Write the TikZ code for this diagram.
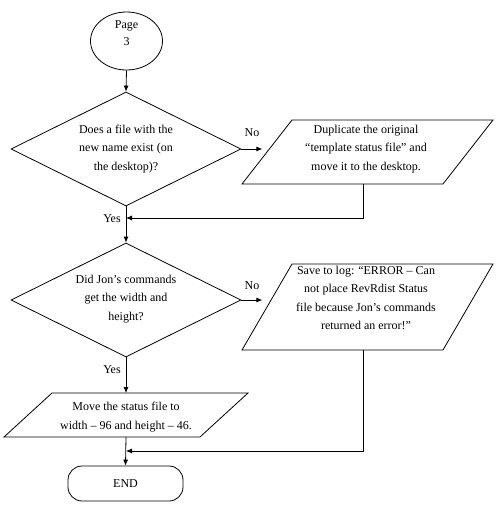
\documentclass[tikz,border=0pt]{standalone}
\usepackage{fontspec}
\setmainfont{Liberation Serif}
\usetikzlibrary{shapes.geometric,arrows.meta}
\begin{document}
\begin{tikzpicture}[x=1pt,y=-1pt,line width=0.8pt,
  arr/.style={-{Latex[length=6pt,width=5pt]}},
  dia/.style={diamond,draw,minimum width=230pt,minimum height=114pt,inner sep=0pt},
  box/.style={draw=none,inner sep=0pt,outer sep=0pt},
  txt/.style={align=center,font=\fontsize{12}{18.5}\selectfont,inner sep=0pt},
  lbl/.style={font=\fontsize{12}{14}\selectfont,inner sep=0pt}]
\useasboundingbox (0,0) rectangle (497,506);
% start
\node[ellipse,draw,minimum width=72pt,minimum height=58pt,inner sep=0pt] (start) at (126.5,41) {};
\node[txt,font=\fontsize{12}{17}\selectfont] (tstart) at (126.5,33.5) {Page\\3};
% decision 1
\node[dia] (d1) at (126,149) {};
\node[txt] (td1) at (126,149) {Does a file with the\\new name exist (on\\the desktop)?};
% parallelogram 1
\node[box,minimum width=251pt,minimum height=64pt] (p1) at (367.5,152) {};
\draw ([xshift=50pt]p1.north west) -- (p1.north east) -- ([xshift=-50pt]p1.south east) -- (p1.south west) -- cycle;
\node[txt] (tp1) at (366,149) {Duplicate the original\\“template status file” and\\move it to the desktop.};
% decision 2
\node[dia] (d2) at (126,300) {};
\node[txt] (td2) at (126,299) {Did Jon’s commands\\get the width and\\height?};
% parallelogram 2
\node[box,minimum width=251pt,minimum height=86pt] (p2) at (367.5,307) {};
\draw ([xshift=50pt]p2.north west) -- (p2.north east) -- ([xshift=-50pt]p2.south east) -- (p2.south west) -- cycle;
\node[txt] (tp2) at (366,298) {Save to log: “ERROR – Can\\not place RevRdist Status\\file because Jon’s commands\\returned an error!”};
% parallelogram 3
\node[box,minimum width=244pt,minimum height=44pt] (p3) at (126,415) {};
\draw ([xshift=48pt]p3.north west) -- (p3.north east) -- ([xshift=-48pt]p3.south east) -- (p3.south west) -- cycle;
\node[txt] (tp3) at (126,417) {Move the status file to\\width – 96 and height – 46.};
% end
\node[draw,rounded corners=14pt,minimum width=115pt,minimum height=35pt,inner sep=0pt,txt] (end) at (125.5,483.5) {END};
% merge points
\coordinate (m1) at (126,218);
\coordinate (m2) at (126,451);
% connectors
\draw[arr] (start.south) -- (d1.north);
\draw[arr] (d1.east) -- ++(21,0);
\draw[arr] ([xshift=-4.5pt]p1.south) |- (m1);
\draw[arr] (d1.south) -- (d2.north);
\draw[arr] (d2.east) -- ++(21,0);
\draw[arr] ([xshift=-4.5pt]p2.south) |- (m2);
\draw[arr] (d2.south) -- (p3.north);
\draw[arr] (p3.south) -- (end.north);
% labels
\node[lbl] (no1) at (252,133) {No};
\node[lbl] (no2) at (252,286) {No};
\node[lbl] (yes1) at (112,219) {Yes};
\node[lbl] (yes2) at (112,370) {Yes};
\end{tikzpicture}
\end{document}
